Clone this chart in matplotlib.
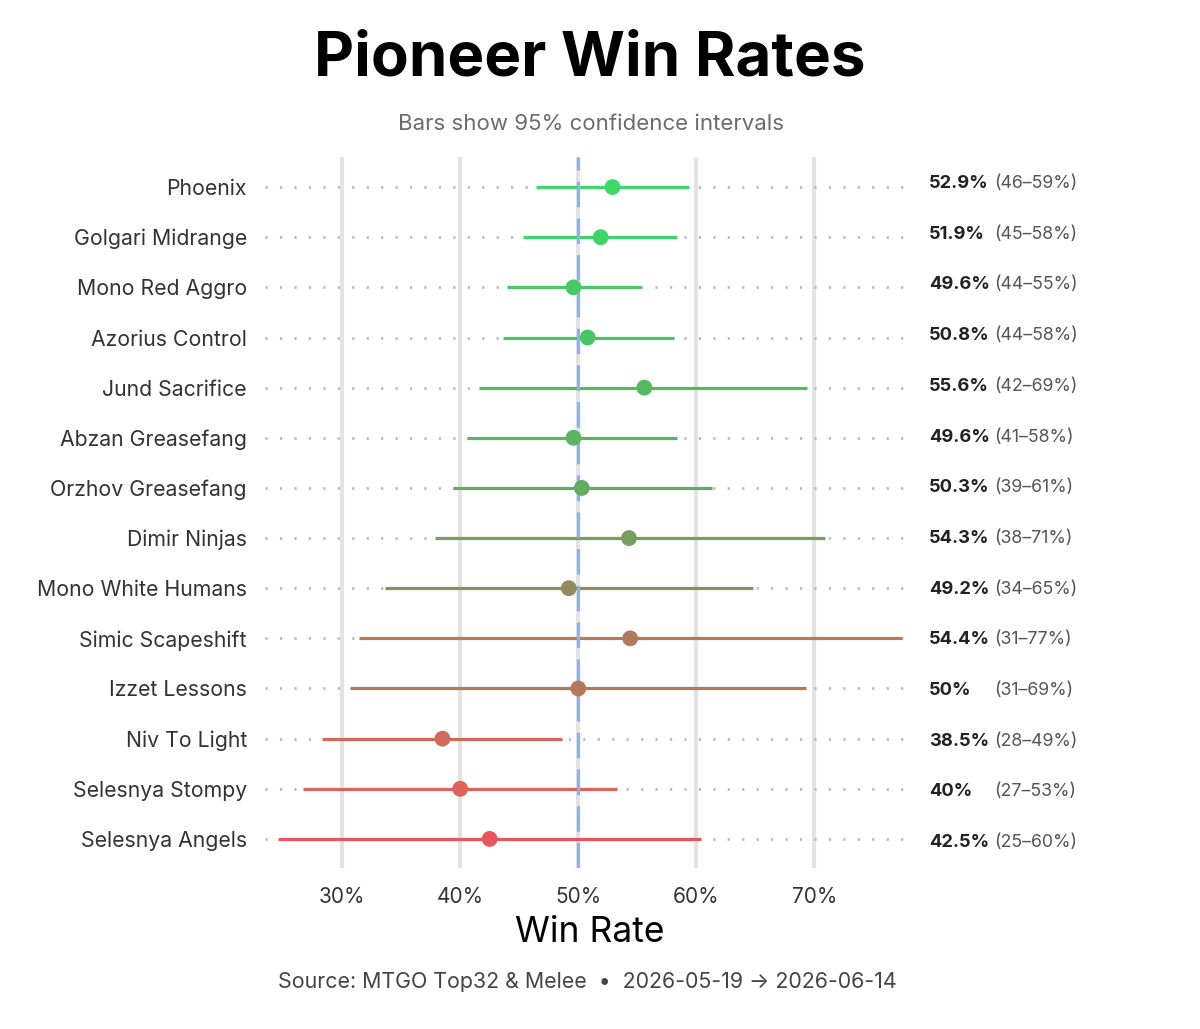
"""Pioneer win rates with 95% confidence intervals (dot + interval plot)."""

import matplotlib
matplotlib.use("Agg")
import matplotlib.pyplot as plt

plt.rcParams["font.family"] = ["Inter", "DejaVu Sans"]

# data, top row first
decks = [
    "Phoenix", "Golgari Midrange", "Mono Red Aggro", "Azorius Control",
    "Jund Sacrifice", "Abzan Greasefang", "Orzhov Greasefang", "Dimir Ninjas",
    "Mono White Humans", "Simic Scapeshift", "Izzet Lessons", "Niv To Light",
    "Selesnya Stompy", "Selesnya Angels",
]
win_rate = [52.9, 51.9, 49.6, 50.8, 55.6, 49.6, 50.3, 54.3, 49.2, 54.4, 50.0, 38.5, 40.0, 42.5]
ci_low = [46.4, 45.3, 44.0, 43.6, 41.6, 40.6, 39.4, 37.9, 33.6, 31.4, 30.7, 28.3, 26.7, 24.6]
ci_high = [59.4, 58.4, 55.3, 58.1, 69.4, 58.4, 61.3, 70.9, 64.8, 77.4, 69.3, 48.6, 53.3, 60.4]
colors = [
    "#3fd86a", "#42d26a", "#47c968", "#4ac366", "#55b863", "#5bb462", "#62ab60",
    "#779e5f", "#938a5e", "#b07b5b", "#b5795a", "#d06a5a", "#dc625b", "#e8555f",
]
x_ticks = [30, 40, 50, 60, 70]

W, H = 1200, 1029
fig = plt.figure(figsize=(W / 100, H / 100), dpi=100)
ax = fig.add_axes([265 / W, 1 - 868 / H, (910 - 265) / W, (868 - 157) / H])

xmin, xmax = 23.47, 78.1
ax.set_xlim(xmin, xmax)
ax.set_ylim(len(decks) - 0.42, -0.6)

# grid
for t in x_ticks:
    ax.axvline(t, color="#e3e3e3", lw=3, zorder=0)

ys = list(range(len(decks)))
for y in ys:
    ax.plot([xmin, xmax], [y, y], color="#bbbbbb", lw=2,
            linestyle=(0, (0.8, 4.4)), zorder=1)

for y, lo, hi, c in zip(ys, ci_low, ci_high, colors):
    ax.plot([lo, hi], [y, y], color=c, lw=2.3, zorder=2, solid_capstyle="butt")

ax.axvline(50, color="#8ab4f0", lw=2.3, linestyle=(0, (8, 3.5)), zorder=3)
ax.scatter(win_rate, ys, s=130, c=colors, zorder=4, linewidths=0)

for s in ax.spines.values():
    s.set_visible(False)
ax.tick_params(length=0)
ax.set_yticks(ys)
ax.set_yticklabels(decks, fontsize=15.3, color="#333333")
ax.tick_params(axis="y", pad=13)
ax.set_xticks(x_ticks)
ax.set_xticklabels([f"{t}%" for t in x_ticks], fontsize=15, color="#333333")
ax.tick_params(axis="x", pad=14)

# right-hand labels
for y, wr, lo, hi in zip(ys, win_rate, ci_low, ci_high):
    fy = 1 - (183.5 + y * 50.7) / H
    fig.text(929 / W, fy, f"{wr:g}%", fontsize=13.2, fontweight="bold",
             color="#222222", va="center", ha="left")
    fig.text(994 / W, fy, f"({round(lo)}–{round(hi)}%)", fontsize=12.8,
             color="#555555", va="center", ha="left")

fig.text(590 / W, 1 - 60 / H, "Pioneer Win Rates", fontsize=44.5, fontweight="bold",
         ha="center", va="center", color="#000000")
fig.text(591 / W, 1 - 124 / H, "Bars show 95% confidence intervals", fontsize=16,
         ha="center", va="center", color="#6b6b6b")
fig.text(590 / W, 1 - 932 / H, "Win Rate", fontsize=25.5, ha="center", va="center",
         color="#000000")
fig.text(587 / W, 1 - 982 / H,
         "Source: MTGO Top32 & Melee  \u2022  2026-05-19 \u2192 2026-06-14",
         fontsize=15.4, ha="center", va="center", color="#444444")

fig.savefig("out.png", dpi=100, facecolor="white")
